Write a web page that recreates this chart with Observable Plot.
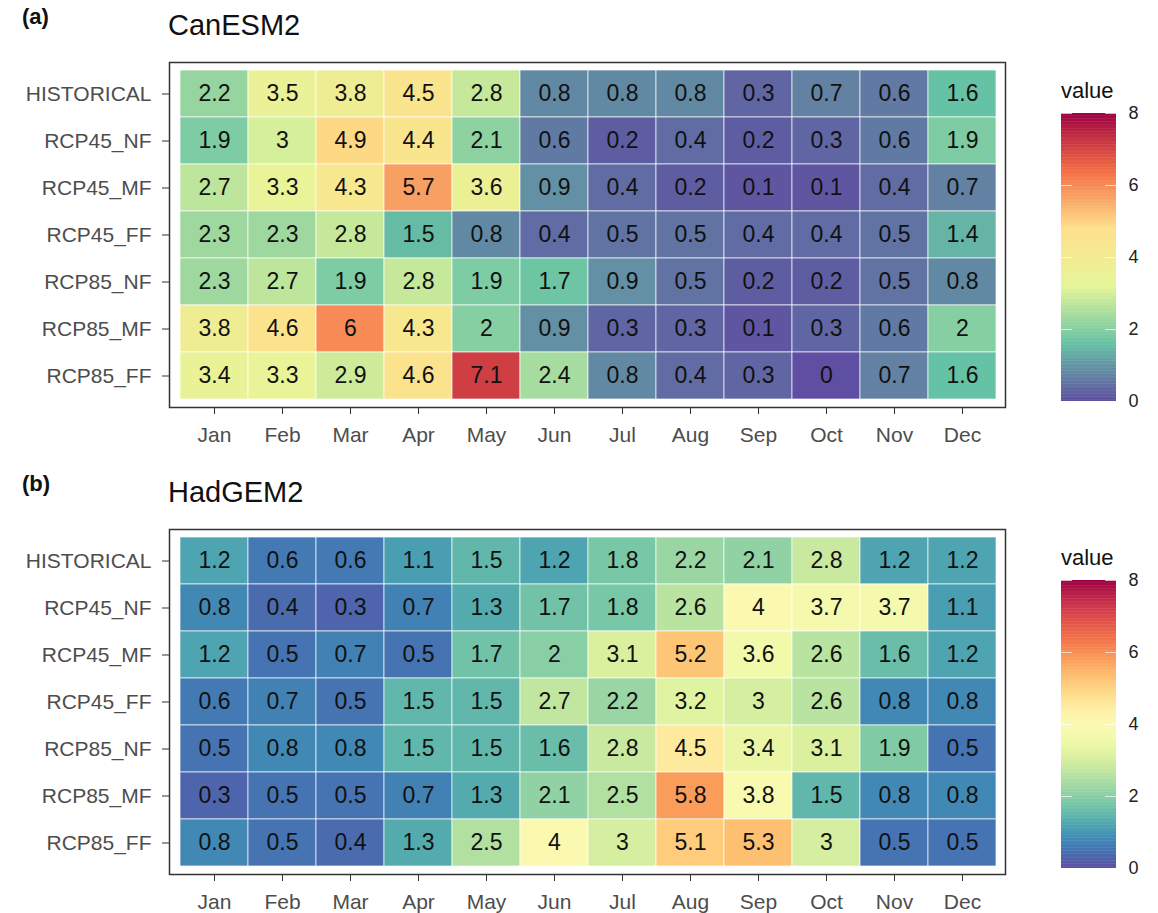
<!DOCTYPE html>
<html>
<head>
<meta charset="utf-8">
<script src="https://cdn.jsdelivr.net/npm/d3@7"></script>
<script src="https://cdn.jsdelivr.net/npm/@observablehq/plot@0.6"></script>
<style>
  html, body { margin: 0; padding: 0; background: #fff; }
  body { width: 1158px; height: 913px; position: relative; overflow: hidden;
         font-family: "Liberation Sans", Arial, sans-serif; }
  .abs { position: absolute; line-height: 1; white-space: nowrap; }
  .tag { font-size: 22px; font-weight: bold; color: #111; }
  .title { font-size: 29px; color: #111; }
  .legtitle { font-size: 22px; color: #111; }
  svg [aria-label^="x-axis"] text, svg [aria-label^="y-axis"] text { fill: #4d4d4d; }
  .legend svg [aria-label^="y-axis"] text { fill: #222; }
</style>
</head>
<body>
<div class="abs tag" style="left:22px; top:6px;">(a)</div>
<div class="abs title" style="left:168px; top:11px;">CanESM2</div>
<div class="abs tag" style="left:22px; top:473px;">(b)</div>
<div class="abs title" style="left:168px; top:478px;">HadGEM2</div>
<div class="abs legtitle" style="left:1061px; top:80px;">value</div>
<div class="abs legtitle" style="left:1061px; top:547px;">value</div>
<div id="pa" class="abs" style="left:0px; top:50px;"></div>
<div id="pb" class="abs" style="left:0px; top:517px;"></div>
<div id="la" class="abs legend" style="left:1040px; top:100px;"></div>
<div id="lb" class="abs legend" style="left:1040px; top:567px;"></div>
<script>
const months = ["Jan","Feb","Mar","Apr","May","Jun","Jul","Aug","Sep","Oct","Nov","Dec"];
const scenarios = ["HISTORICAL","RCP45_NF","RCP45_MF","RCP45_FF","RCP85_NF","RCP85_MF","RCP85_FF"];

const canesmValues = [
  [2.2, 3.5, 3.8, 4.5, 2.8, 0.8, 0.8, 0.8, 0.3, 0.7, 0.6, 1.6],
  [1.9, 3,   4.9, 4.4, 2.1, 0.6, 0.2, 0.4, 0.2, 0.3, 0.6, 1.9],
  [2.7, 3.3, 4.3, 5.7, 3.6, 0.9, 0.4, 0.2, 0.1, 0.1, 0.4, 0.7],
  [2.3, 2.3, 2.8, 1.5, 0.8, 0.4, 0.5, 0.5, 0.4, 0.4, 0.5, 1.4],
  [2.3, 2.7, 1.9, 2.8, 1.9, 1.7, 0.9, 0.5, 0.2, 0.2, 0.5, 0.8],
  [3.8, 4.6, 6,   4.3, 2,   0.9, 0.3, 0.3, 0.1, 0.3, 0.6, 2],
  [3.4, 3.3, 2.9, 4.6, 7.1, 2.4, 0.8, 0.4, 0.3, 0,   0.7, 1.6]
];

const hadgemValues = [
  [1.2, 0.6, 0.6, 1.1, 1.5, 1.2, 1.8, 2.2, 2.1, 2.8, 1.2, 1.2],
  [0.8, 0.4, 0.3, 0.7, 1.3, 1.7, 1.8, 2.6, 4,   3.7, 3.7, 1.1],
  [1.2, 0.5, 0.7, 0.5, 1.7, 2,   3.1, 5.2, 3.6, 2.6, 1.6, 1.2],
  [0.6, 0.7, 0.5, 1.5, 1.5, 2.7, 2.2, 3.2, 3,   2.6, 0.8, 0.8],
  [0.5, 0.8, 0.8, 1.5, 1.5, 1.6, 2.8, 4.5, 3.4, 3.1, 1.9, 0.5],
  [0.3, 0.5, 0.5, 0.7, 1.3, 2.1, 2.5, 5.8, 3.8, 1.5, 0.8, 0.8],
  [0.8, 0.5, 0.4, 1.3, 2.5, 4,   3,   5.1, 5.3, 3,   0.5, 0.5]
];

const legendTicks = [0, 2, 4, 6, 8];

function table(values) {
  return scenarios.flatMap((s, i) => months.map((m, j) => ({scenario: s, month: m, value: values[i][j]})));
}

const colorA = {
  type: "linear",
  domain: [0, 1.6, 3.2, 4.8, 6.4, 8],
  range: ["#5E4FA2", "#66C2A5", "#E6F598", "#FEE08B", "#F46D43", "#9E0142"],
  clamp: true
};
const colorB = { type: "linear", domain: [0, 8], scheme: "spectral", reverse: true };

const FONT = '"Liberation Sans", Arial, sans-serif';

function heatmap(data, color) {
  return Plot.plot({
    width: 1010, height: 402,
    marginLeft: 169, marginRight: 5, marginTop: 12, marginBottom: 45,
    style: { fontFamily: FONT, fontSize: "21px", color: "#333", background: "transparent", overflow: "visible" },
    x: { type: "band", domain: months, padding: 0, insetLeft: 6, insetRight: 5, label: null, tickSize: 7, tickPadding: 13 },
    y: { type: "band", domain: scenarios, padding: 0, insetTop: 5, insetBottom: 5, label: null, tickSize: 7, tickPadding: 11 },
    color: color,
    marks: [
      Plot.cell(data, { x: "month", y: "scenario", fill: "value", stroke: "white", strokeWidth: 0.8, strokeOpacity: 0.85 }),
      Plot.text(data, { x: "month", y: "scenario", text: d => String(d.value), fontSize: 23, fill: "#111" }),
      Plot.frame({ stroke: "#333", strokeWidth: 1.5 })
    ]
  });
}

function legend(color) {
  const step = 0.04;
  const steps = d3.range(0, 8, step);
  return Plot.plot({
    width: 118, height: 313,
    marginLeft: 21, marginRight: 42, marginTop: 13, marginBottom: 12,
    style: { fontFamily: FONT, fontSize: "18px", color: "#222", background: "transparent", overflow: "visible" },
    x: { domain: [0, 1], axis: null },
    y: { domain: [0, 8], ticks: legendTicks, tickSize: 0, tickPadding: 12, label: null, axis: "right" },
    color: color,
    marks: [
      Plot.rect(steps, { x1: 0, x2: 1, y1: d => d, y2: d => Math.min(8, d + step * 1.3), fill: d => d + step / 2 }),
      Plot.ruleY(legendTicks, { x1: 0, x2: 0.2, stroke: "white", strokeOpacity: 0.7 }),
      Plot.ruleY(legendTicks, { x1: 0.8, x2: 1, stroke: "white", strokeOpacity: 0.7 })
    ]
  });
}

document.getElementById("pa").append(heatmap(table(canesmValues), colorA));
document.getElementById("pb").append(heatmap(table(hadgemValues), colorB));
document.getElementById("la").append(legend(colorA));
document.getElementById("lb").append(legend(colorB));
</script>
</body>
</html>
